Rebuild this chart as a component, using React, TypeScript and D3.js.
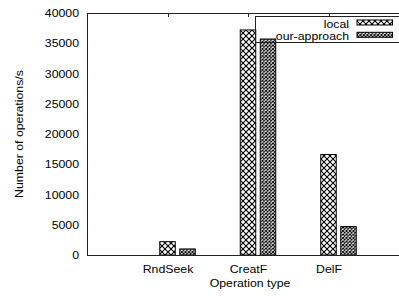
import * as d3 from "d3";
import * as React from "react";

const categories = ["RndSeek", "CreatF", "DelF"];
const seriesNames = ["local", "our-approach"];
const localValues = [2200, 37200, 16600];
const ourValues = [1000, 35700, 4700];
const yTicks = [0, 5000, 10000, 15000, 20000, 25000, 30000, 35000, 40000];

export default function App() {
  const width = 399;
  const height = 296;
  const marginLeft = 87;
  const marginTop = 13;
  const plotBottom = 255;
  const plotRight = 409;

  const svgRef = React.useRef<SVGSVGElement>(null);

  React.useEffect(() => {
    const svgElement = svgRef.current;
    if (svgElement == null) return;
    const svg = d3.select(svgElement);
    svg.selectAll("*").remove();

    const font = "'Liberation Sans', Arial, Helvetica, sans-serif";
    // the original text looks a bit stretched horizontally
    const stretch = 1.12;

    const label = (
      parent: d3.Selection<any, any, any, any>,
      tx: number,
      ty: number,
      str: string,
      anchor: string,
      rot = 0
    ) =>
      parent
        .append("text")
        .attr(
          "transform",
          `translate(${tx},${ty}) rotate(${rot}) scale(${stretch},1)`
        )
        .attr("text-anchor", anchor)
        .attr("font-family", font)
        .attr("font-size", 11)
        .attr("fill", "#000")
        .text(str);

    // category index -> centre of the first bar in the cluster
    const x = d3.scaleLinear([-1, 3], [marginLeft, plotRight]);
    const xSub = d3
      .scaleBand(seriesNames, [-7.75, 27.75])
      .paddingInner(0.225)
      .paddingOuter(0);
    const y = d3.scaleLinear([0, 40000], [plotBottom, marginTop]);

    const defs = svg.append("defs");
    const p1 = defs
      .append("pattern")
      .attr("id", "pat-local")
      .attr("patternUnits", "userSpaceOnUse")
      .attr("width", 6)
      .attr("height", 6);
    p1.append("rect").attr("width", 6).attr("height", 6).attr("fill", "#fff");
    p1.append("path")
      .attr("d", "M0,0L6,6M0,6L6,0")
      .attr("stroke", "#000")
      .attr("stroke-width", 1.1);

    const p2 = defs
      .append("pattern")
      .attr("id", "pat-our")
      .attr("patternUnits", "userSpaceOnUse")
      .attr("width", 3.5)
      .attr("height", 3.5);
    p2.append("rect").attr("width", 3.5).attr("height", 3.5).attr("fill", "#fff");
    p2.append("path")
      .attr("d", "M0,0L3.5,3.5M0,3.5L3.5,0")
      .attr("stroke", "#000")
      .attr("stroke-width", 1);

    const fills = ["url(#pat-local)", "url(#pat-our)"];
    const series = [localValues, ourValues];

    // bars
    series.forEach((vals, si) => {
      svg
        .append("g")
        .selectAll("rect")
        .data(vals)
        .join("rect")
        .attr("x", (_, i) => x(i) + (xSub(seriesNames[si]) ?? 0))
        .attr("width", xSub.bandwidth())
        .attr("y", (d) => y(d))
        .attr("height", (d) => y(0) - y(d))
        .attr("fill", fills[si])
        .attr("stroke", "#000")
        .attr("stroke-width", 1);
    });

    // border
    svg
      .append("rect")
      .attr("x", marginLeft + 0.5)
      .attr("y", marginTop + 0.5)
      .attr("width", plotRight - marginLeft)
      .attr("height", plotBottom - marginTop)
      .attr("fill", "none")
      .attr("stroke", "#222")
      .attr("stroke-width", 1);

    // top mirrored ticks
    svg
      .append("g")
      .selectAll("line")
      .data(categories)
      .join("line")
      .attr("x1", (_, i) => Math.round(x(i)) + 0.5)
      .attr("x2", (_, i) => Math.round(x(i)) + 0.5)
      .attr("y1", marginTop)
      .attr("y2", marginTop + 4)
      .attr("stroke", "#222");

    // y axis labels
    const yAxis = svg.append("g");
    yTicks.forEach((t) => label(yAxis, 79, y(t) + 4, String(t), "end"));

    // x axis labels
    const xAxis = svg.append("g");
    categories.forEach((c, i) => label(xAxis, x(i) + 0.5, 273, c, "middle"));

    label(svg, (marginLeft + plotRight) / 2 + 2, 287, "Operation type", "middle");
    label(
      svg,
      23,
      (marginTop + plotBottom) / 2,
      "Number of operations/s",
      "middle",
      -90
    );

    // legend
    const legend = svg.append("g");
    legend
      .append("rect")
      .attr("x", 255.5)
      .attr("y", 16.5)
      .attr("width", 200)
      .attr("height", 26)
      .attr("fill", "none")
      .attr("stroke", "#222");
    seriesNames.forEach((name, i) => {
      const rowY = 22.5 + i * 12.3;
      label(legend, 349, rowY + 5.3, name, "end");
      legend
        .append("rect")
        .attr("x", 357)
        .attr("y", rowY - 2.5)
        .attr("width", 35.5)
        .attr("height", 5)
        .attr("fill", fills[i])
        .attr("stroke", "#000");
    });
  }, []);

  return (
    <svg
      ref={svgRef}
      width={width}
      height={height}
      style={{ position: "absolute", left: 0, top: 0, background: "#fff" }}
    ></svg>
  );
}
